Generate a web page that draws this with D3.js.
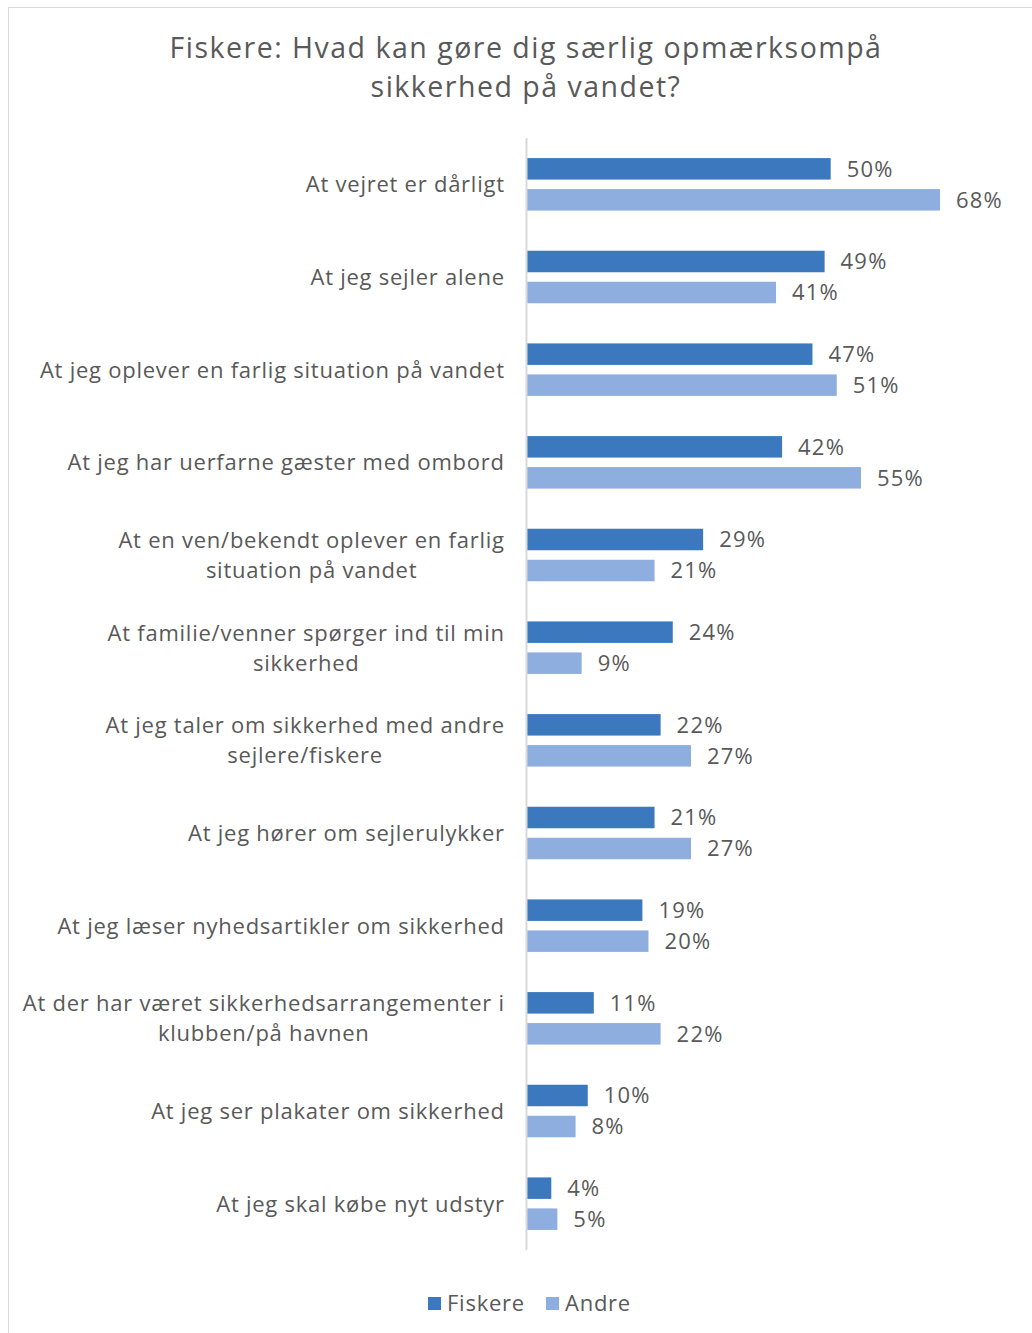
<!DOCTYPE html>
<html><head><meta charset="utf-8">
<script src="https://cdn.jsdelivr.net/npm/d3@7"></script>
<style>body{margin:0;background:#fff}svg{display:block}text{font-family:"Open Sans",Lato,sans-serif;fill:#595959}</style>
</head><body>
<script>
const title = ["Fiskere: Hvad kan gøre dig særlig opmærksompå", "sikkerhed på vandet?"];
const categories = [
  ["At vejret er dårligt"],
  ["At jeg sejler alene"],
  ["At jeg oplever en farlig situation på vandet"],
  ["At jeg har uerfarne gæster med ombord"],
  ["At en ven/bekendt oplever en farlig", "situation på vandet"],
  ["At familie/venner spørger ind til min", "sikkerhed"],
  ["At jeg taler om sikkerhed med andre", "sejlere/fiskere"],
  ["At jeg hører om sejlerulykker"],
  ["At jeg læser nyhedsartikler om sikkerhed"],
  ["At der har været sikkerhedsarrangementer i", "klubben/på havnen"],
  ["At jeg ser plakater om sikkerhed"],
  ["At jeg skal købe nyt udstyr"]
];
const seriesNames = ["Fiskere", "Andre"];
const fiskere = [50, 49, 47, 42, 29, 24, 22, 21, 19, 11, 10, 4];
const andre = [68, 41, 51, 55, 21, 9, 27, 27, 20, 22, 8, 5];
const colors = ["#3b78bd", "#8eaee0"];

(function () {
const W = 1032, H = 1333, LS = 0.75;
const svg = d3.select("body").append("svg").attr("width", W).attr("height", H);
svg.append("rect").attr("x", 8.5).attr("y", 7.5).attr("width", W + 10).attr("height", H + 10)
  .attr("fill", "#fff").attr("stroke", "#d9d9d9").attr("stroke-width", 1);

const x0 = 527, plotTop = 138, plotBottom = 1250;
const x = d3.scaleLinear().domain([0, 68]).range([x0, x0 + 413]);
const y = d3.scaleBand().domain(d3.range(categories.length)).range([plotTop, plotBottom]).paddingInner(0).paddingOuter(0);
const barH = 21.5, gap = 9.5;

svg.append("g").selectAll("text").data(title).join("text")
  .attr("x", 526).attr("y", (d, i) => 58 + i * 39)
  .attr("text-anchor", "middle").attr("font-size", 28.5).attr("letter-spacing", 1.5).text(d => d);

const data = [fiskere, andre];
const g = svg.append("g");
data.forEach((vals, s) => {
  const yy = i => y(i) + y.bandwidth() / 2 - barH - gap / 2 + s * (barH + gap);
  g.append("g").selectAll("rect").data(vals).join("rect")
    .attr("x", x(0)).attr("y", (d, i) => yy(i))
    .attr("width", d => x(d) - x(0)).attr("height", barH)
    .attr("fill", colors[s]);
  g.append("g").selectAll("text").data(vals).join("text")
    .attr("x", d => x(d) + 16).attr("y", (d, i) => yy(i) + barH / 2)
    .attr("dy", "0.36em").attr("font-size", 22).attr("letter-spacing", 1.2).text(d => d + "%");
});

svg.append("line").attr("x1", x0 - 0.5).attr("x2", x0 - 0.5).attr("y1", plotTop).attr("y2", plotBottom)
  .attr("stroke", "#d9d9d9").attr("stroke-width", 2);

const labelG = svg.append("g");
categories.forEach((lines, i) => {
  const cy = y(i) + y.bandwidth() / 2;
  const grp = labelG.append("g");
  const texts = grp.selectAll("text").data(lines).join("text")
    .attr("font-size", 22).attr("letter-spacing", LS).attr("text-anchor", "middle")
    .attr("y", (d, k) => cy + (k - (lines.length - 1) / 2) * 30)
    .attr("dy", "0.36em").text(d => d);
  let maxW = 0;
  texts.each(function () { maxW = Math.max(maxW, this.getComputedTextLength()); });
  texts.attr("x", 504 + LS - maxW / 2);
});

const leg = svg.append("g");
const legX = [428, 546];
seriesNames.forEach((n, s) => {
  leg.append("rect").attr("x", legX[s]).attr("y", 1297).attr("width", 13).attr("height", 13).attr("fill", colors[s]);
  leg.append("text").attr("x", legX[s] + 19).attr("y", 1303.5).attr("dy", "0.36em").attr("font-size", 22).attr("letter-spacing", LS).text(n);
});
})();
</script>
</body></html>
